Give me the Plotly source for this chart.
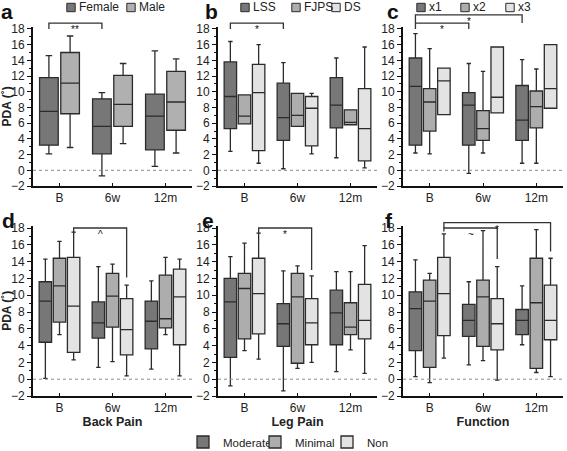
import plotly.graph_objects as go

W, H = 567, 451
times = ["B", "6w", "12m"]

# ---------- panel a : sex ----------
a_names = ["Female", "Male"]
a_low = [[2.1, -0.7, 0.5], [2.9, 3.4, 2.2]]
a_q1 = [[3.2, 2.1, 2.6], [7.2, 5.6, 5.1]]
a_med = [[7.5, 5.6, 6.9], [11.1, 8.4, 8.7]]
a_q3 = [[11.8, 9.1, 9.7], [15.0, 12.1, 12.6]]
a_up = [[14.6, 9.9, 15.2], [17.1, 13.6, 14.2]]

# ---------- panel b : diagnosis ----------
b_names = ["LSS", "FJPS", "DS"]
b_low = [[2.4, 0.2, 1.6], [5.9, 5.6, 5.8], [0.9, 2.1, 0.3]]
b_q1 = [[5.3, 3.8, 5.4], [5.9, 5.6, 5.8], [2.5, 3.1, 1.2]]
b_med = [[9.4, 6.7, 8.3], [6.9, 7.0, 6.1], [9.9, 7.9, 5.3]]
b_q3 = [[13.8, 11.1, 11.8], [9.6, 9.8, 7.7], [13.5, 9.4, 10.4]]
b_up = [[16.4, 13.7, 14.3], [9.6, 9.8, 7.7], [16.0, 9.8, 15.7]]

# ---------- panel c : levels ----------
c_names = ["x1", "x2", "x3"]
c_low = [[2.2, -0.4, 0.9], [2.1, 2.2, 0.9], [7.1, 7.3, 7.9]]
c_q1 = [[3.2, 3.2, 3.8], [5.0, 3.8, 5.4], [7.1, 7.3, 7.9]]
c_med = [[10.7, 8.3, 6.4], [8.7, 5.3, 8.1], [11.4, 9.3, 10.4]]
c_q3 = [[14.3, 9.9, 10.8], [10.4, 7.6, 10.1], [13.0, 15.7, 16.0]]
c_up = [[17.4, 13.6, 14.1], [15.5, 12.6, 12.9], [13.0, 15.7, 16.0]]

# ---------- bottom row groups ----------
sev_names = ["Moderate", "Minimal", "Non"]

# panel d : back pain
d_low = [[0.1, 1.4, 1.2], [5.3, 2.1, 5.3], [2.3, 0.4, 0.4]]
d_q1 = [[4.4, 4.9, 3.6], [6.8, 6.2, 6.1], [3.2, 2.9, 4.1]]
d_med = [[9.3, 6.7, 6.9], [11.1, 9.9, 7.2], [8.7, 5.9, 9.8]]
d_q3 = [[11.6, 9.2, 9.3], [14.4, 12.6, 12.4], [14.5, 9.6, 13.1]]
d_up = [[14.3, 13.4, 11.7], [16.4, 13.7, 14.5], [17.5, 11.2, 14.3]]

# panel e : leg pain
e_low = [[-0.8, -1.4, 0.9], [3.4, 1.3, 3.5], [2.4, 2.0, 0.7]]
e_q1 = [[2.6, 3.9, 4.1], [4.8, 1.9, 5.3], [5.4, 4.1, 4.8]]
e_med = [[9.2, 6.6, 7.9], [10.8, 9.8, 6.2], [10.2, 6.7, 7.0]]
e_q3 = [[12.0, 9.0, 10.6], [12.6, 12.6, 9.1], [14.4, 9.6, 11.3]]
e_up = [[14.6, 12.9, 12.8], [16.2, 13.5, 12.8], [17.4, 12.3, 15.9]]

# panel f : function
f_low = [[0.3, 1.7, 4.1], [-0.4, 2.2, 0.8], [2.5, -0.1, 0.3]]
f_q1 = [[3.4, 5.1, 5.3], [1.4, 3.9, 1.3], [5.2, 3.5, 4.7]]
f_med = [[8.4, 7.0, 7.0], [9.3, 9.8, 9.1], [10.2, 6.6, 7.0]]
f_q3 = [[10.4, 8.9, 8.3], [11.8, 11.8, 14.4], [14.5, 9.6, 11.2]]
f_up = [[14.2, 11.6, 11.1], [12.6, 17.7, 17.8], [17.3, 13.4, 14.4]]

y_ticks = [-2, 0, 2, 4, 6, 8, 10, 12, 14, 16, 18]

# significance brackets: panel, (time idx, group idx) start, (time idx, group idx) end,
# bracket height, left-leg end, right-leg end, label
brackets = [
    ("a", (0, 0), (1, 0), 18.75, 18.0, 18.0, "**"),
    ("b", (0, 0), (1, 0), 18.75, 18.0, 18.0, "*"),
    ("c", (0, 0), (1, 0), 18.75, 18.0, 18.0, "*"),
    ("c", (0, 0), (2, 0), 19.8, 18.75, 18.75, "*"),
    ("d", (0, 2), (1, 2), 18.0, 17.3, 12.1, "^"),
    ("e", (0, 2), (1, 2), 18.0, 17.3, 13.0, "*"),
    ("f", (0, 2), (1, 2), 18.0, 17.6, 14.3, "~"),
    ("f", (0, 2), (2, 2), 18.65, 18.0, 15.2, "*"),
]

# ---------------- layout geometry ----------------
FILL2 = ["#777777", "#b0b0b0"]
FILL3 = ["#777777", "#adadad", "#e3e3e3"]
EDGE = "#2b2b2b"
FONT = "Arial, Liberation Sans, sans-serif"
BOXGAP, BOXGROUPGAP = 0.2, 0.12
XR = [-0.5, 2.5]
YR = [-2, 18.3]
COLS = [(33, 192), (218, 377), (403, 563)]      # px left/right
ROWS = [(26.6, 186.0), (225.5, 396.0)]           # px top/bottom

panels = {
    "a": (0, 0, 1), "b": (0, 1, 2), "c": (0, 2, 3),
    "d": (1, 0, 4), "e": (1, 1, 5), "f": (1, 2, 6),
}

# manual legends for top panels: (panel, square-centre x px for each entry)
top_legends = [
    ("a", a_names, FILL2, [71, 131]),
    ("b", b_names, FILL3, [245, 296, 336]),
    ("c", c_names, FILL3, [421, 465, 510]),
]
LEG_Y = 7.5


def px(col, xv):
    x0, x1 = COLS[col]
    return (x0 + (xv - XR[0]) / (XR[1] - XR[0]) * (x1 - x0)) / W


def py(row, yv):
    t, b = ROWS[row]
    return 1 - (b - (yv - YR[0]) / (YR[1] - YR[0]) * (b - t)) / H


def box_x(cat, k, n):
    return cat + (k - (n - 1) / 2) * (1 - BOXGAP) / n


fig = go.Figure()


def add_group(panel, names, lows, q1s, meds, q3s, ups, fills, show):
    row, col, idx = panels[panel]
    sfx = "" if idx == 1 else str(idx)
    n = len(names)
    bw = (1 - BOXGAP) / n * (1 - BOXGROUPGAP)
    for k, nm in enumerate(names):
        fig.add_trace(go.Box(
            x=[box_x(i, k, n) for i in range(len(times))],
            q1=q1s[k], median=meds[k], q3=q3s[k],
            lowerfence=lows[k], upperfence=ups[k], width=bw,
            name=nm, legendgroup=nm, showlegend=show,
            fillcolor=fills[k], line=dict(color=EDGE, width=1.3),
            whiskerwidth=0.35, boxpoints=False, hoverinfo="skip",
            xaxis="x" + sfx, yaxis="y" + sfx,
        ))


add_group("a", a_names, a_low, a_q1, a_med, a_q3, a_up, FILL2, False)
add_group("b", b_names, b_low, b_q1, b_med, b_q3, b_up, FILL3, False)
add_group("c", c_names, c_low, c_q1, c_med, c_q3, c_up, FILL3, False)
add_group("d", sev_names, d_low, d_q1, d_med, d_q3, d_up, FILL3, True)
add_group("e", sev_names, e_low, e_q1, e_med, e_q3, e_up, FILL3, False)
add_group("f", sev_names, f_low, f_q1, f_med, f_q3, f_up, FILL3, False)

layout = dict(
    width=W, height=H, margin=dict(l=0, r=0, t=0, b=0, autoexpand=False),
    paper_bgcolor="white", plot_bgcolor="white",
    boxmode="overlay",
    font=dict(family=FONT, size=12, color="#222"),
    legend=dict(orientation="h", bgcolor="rgba(0,0,0,0)", borderwidth=0,
                xanchor="left", yanchor="middle", x=183 / W, y=1 - 442 / H,
                font=dict(size=11.5, color="#222"), entrywidth=27, entrywidthmode="pixels",
                itemclick=False, itemdoubleclick=False),
)

xtitles = {"d": "Back Pain", "e": "Leg Pain", "f": "Function"}
for p, (row, col, idx) in panels.items():
    sfx = "" if idx == 1 else str(idx)
    t, b = ROWS[row]
    layout["xaxis" + sfx] = dict(
        domain=[COLS[col][0] / W, COLS[col][1] / W], anchor="y" + sfx,
        range=XR, tickvals=list(range(len(times))), ticktext=times,
        showgrid=False, zeroline=False,
        showline=True, linecolor="#111", linewidth=2,
        ticks="inside", ticklen=3, tickcolor="#111",
        tickfont=dict(size=12, color="#222"),
        title=dict(text="<b>" + xtitles[p] + "</b>", font=dict(size=12.5), standoff=3) if p in xtitles else None,
    )
    layout["yaxis" + sfx] = dict(
        domain=[1 - b / H, 1 - t / H], anchor="x" + sfx,
        range=YR, tickvals=y_ticks, showgrid=False, zeroline=False,
        showline=True, linecolor="#111", linewidth=2,
        ticks="outside", ticklen=4, tickcolor="#111",
        minor=dict(ticks="outside", ticklen=2, dtick=1, tick0=-1, tickcolor="#111"),
        tickfont=dict(size=12, color="#222"),
        title=dict(text="<b>PDA (˚)</b>", font=dict(size=12), standoff=4) if p in ("a", "d") else None,
    )

shapes = []
annotations = []
for p, (row, col, idx) in panels.items():
    sfx = "" if idx == 1 else str(idx)
    shapes.append(dict(type="line", xref="x" + sfx, yref="y" + sfx, x0=XR[0], x1=XR[1], y0=0, y1=0,
                       line=dict(color="#8a8a8a", width=1, dash="dot")))

for p, (c0, k0), (c1, k1), ytop, yl, yr, lab in brackets:
    row, col, idx = panels[p]
    n = 2 if p == "a" else 3
    xa = px(col, box_x(c0, k0, n))
    xb = px(col, box_x(c1, k1, n))
    path = "M{0},{1} L{0},{2} L{3},{2} L{3},{4}".format(xa, py(row, yl), py(row, ytop), xb, py(row, yr))
    shapes.append(dict(type="path", xref="paper", yref="paper", path=path,
                       line=dict(color="#333", width=1.3)))
    annotations.append(dict(text=lab, xref="paper", yref="paper", x=(xa + xb) / 2, y=py(row, ytop),
                            xanchor="center", yanchor="top", showarrow=False,
                            font=dict(size=10, color="#111"), yshift=1))

# top-row legends (square + label)
S = 4.2
for p, names, fills, xs in top_legends:
    for nm, fc, xc in zip(names, fills, xs):
        shapes.append(dict(type="rect", xref="paper", yref="paper",
                           x0=(xc - S) / W, x1=(xc + S) / W, y0=1 - (LEG_Y + S) / H, y1=1 - (LEG_Y - S) / H,
                           fillcolor=fc, line=dict(color=EDGE, width=1)))
        annotations.append(dict(text=nm, xref="paper", yref="paper", x=(xc + S + 1.5) / W, y=1 - LEG_Y / H,
                                xanchor="left", yanchor="middle", showarrow=False,
                                font=dict(size=12, color="#222")))

letters = [("a", 7, 11.5), ("b", 211, 11.5), ("c", 393, 11.5), ("d", 8, 220), ("e", 208, 220), ("f", 389, 220)]
for t, x, y in letters:
    annotations.append(dict(text="<b>" + t + "</b>", xref="paper", yref="paper", x=x / W, y=1 - y / H,
                            xanchor="center", yanchor="middle", showarrow=False,
                            font=dict(size=21, color="#111")))

layout["shapes"] = shapes
layout["annotations"] = annotations
fig.update_layout(**layout)
fig.write_html("out.html", config={"displayModeBar": False},
               post_script="document.body.style.margin='0px';document.body.style.overflow='hidden';")
